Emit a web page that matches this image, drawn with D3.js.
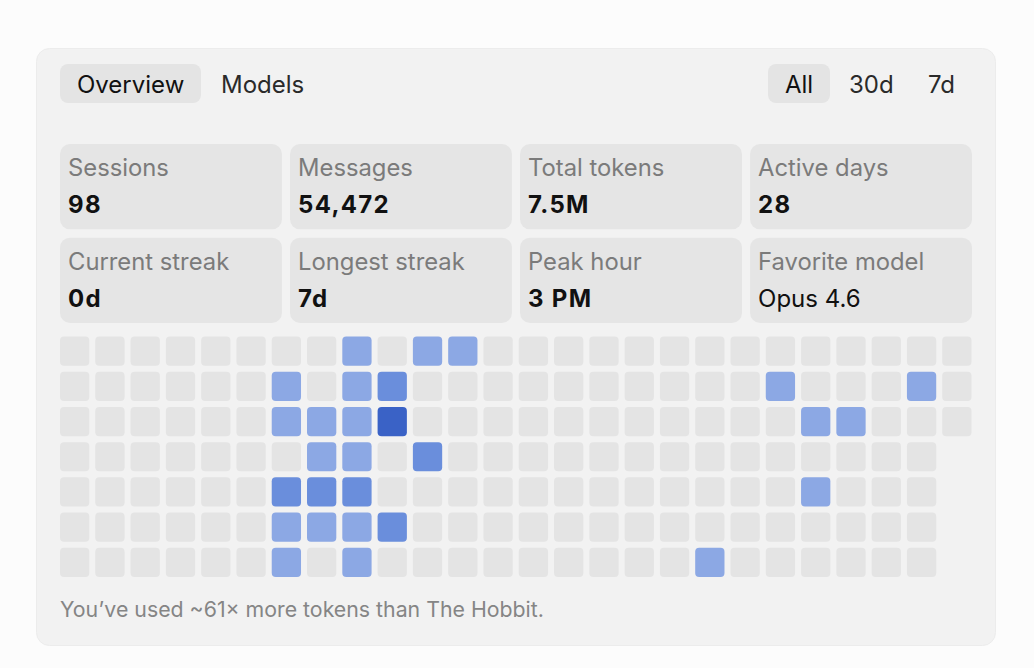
<!DOCTYPE html>
<html>
<head>
<meta charset="utf-8">
<script src="https://cdn.jsdelivr.net/npm/d3@7/dist/d3.min.js"></script>
<style>
  html, body { margin: 0; padding: 0; background: #fcfcfc; }
  svg { display: block; font-family: Inter, "Noto Sans", sans-serif; }
</style>
</head>
<body>
<svg id="chart" width="1034" height="668"></svg>
<script>
// ---- data ----
const leftTabs = ["Overview", "Models"];
const rangeTabs = ["All", "30d", "7d"];
const statLabels = ["Sessions", "Messages", "Total tokens", "Active days",
                    "Current streak", "Longest streak", "Peak hour", "Favorite model"];
const statValues = ["98", "54,472", "7.5M", "28", "0d", "7d", "3 PM", "Opus 4.6"];
const footerText = "You\u2019ve used ~61\u00d7 more tokens than The Hobbit.";
// activity level per week column (index 0..25), each with up to 7 day rows
const weeks = d3.range(26);
const days = d3.range(7);
const activity = [
  [0,0,0,0,0,0,0],[0,0,0,0,0,0,0],[0,0,0,0,0,0,0],[0,0,0,0,0,0,0],
  [0,0,0,0,0,0,0],[0,0,0,0,0,0,0],
  [0,1,1,0,2,1,1],
  [0,0,1,1,2,1,0],
  [1,1,1,1,2,1,1],
  [0,2,3,0,0,2,0],
  [1,0,0,2,0,0,0],
  [1,0,0,0,0,0,0],
  [0,0,0,0,0,0,0],[0,0,0,0,0,0,0],[0,0,0,0,0,0,0],[0,0,0,0,0,0,0],
  [0,0,0,0,0,0,0],[0,0,0,0,0,0,0],
  [0,0,0,0,0,0,1],
  [0,0,0,0,0,0,0],
  [0,1,0,0,0,0,0],
  [0,0,1,0,1,0,0],
  [0,0,1,0,0,0,0],
  [0,0,0,0,0,0,0],
  [0,1,0,0,0,0,0],
  [0,0,0]
];
const levels = [0, 1, 2, 3];
const levelColors = ["#e4e4e4", "#8ca8e4", "#6a8edc", "#3a62c6"];

// ---- drawing ----
const svg = d3.select("#chart");

// card
svg.append("rect").attr("x", 36.5).attr("y", 48.5).attr("width", 959).attr("height", 597)
  .attr("rx", 13).attr("fill", "#f2f2f2").attr("stroke", "#ececec");

// left tabs
svg.append("rect").attr("x", 60).attr("y", 64).attr("width", 141).attr("height", 39)
  .attr("rx", 8).attr("fill", "#e4e4e4");
const leftTabX = [77, 221];
svg.selectAll("text.ltab").data(leftTabs).join("text").attr("class", "ltab")
  .attr("x", (d, i) => leftTabX[i]).attr("y", 92.5)
  .attr("font-size", 24).attr("fill", (d, i) => i === 0 ? "#111" : "#2a2a2a")
  .text(d => d);

// range tabs
svg.append("rect").attr("x", 768).attr("y", 64).attr("width", 62).attr("height", 39)
  .attr("rx", 8).attr("fill", "#e4e4e4");
const rangeTabX = [785, 849, 928];
svg.selectAll("text.rtab").data(rangeTabs).join("text").attr("class", "rtab")
  .attr("x", (d, i) => rangeTabX[i]).attr("y", 92.5)
  .attr("font-size", 24).attr("fill", (d, i) => i === 0 ? "#111" : "#2a2a2a")
  .text(d => d);

// stat boxes
const boxX = d3.scaleBand().domain(d3.range(4)).range([60, 972]).paddingInner(8 / 228);
const boxY = d3.scaleBand().domain(d3.range(2)).range([144, 323]).paddingInner(8 / 89.5);
const stats = statLabels.map((l, i) => ({ label: l, value: statValues[i], col: i % 4, row: Math.floor(i / 4), i }));
const boxes = svg.selectAll("g.stat").data(stats).join("g").attr("class", "stat")
  .attr("transform", d => `translate(${boxX(d.col)},${boxY(d.row)})`);
boxes.append("rect").attr("width", boxX.bandwidth()).attr("height", boxY.bandwidth())
  .attr("rx", 10).attr("fill", "#e5e5e5");
boxes.append("text").attr("x", 8).attr("y", 32).attr("font-size", 23.8).attr("fill", "#7b7b7b")
  .text(d => d.label);
boxes.append("text").attr("x", 8).attr("y", 69).attr("font-size", 24)
  .attr("font-weight", d => d.i === 7 ? 400 : 700)
  .attr("letter-spacing", d => d.i === 7 ? 0 : 1.3)
  .attr("fill", "#111")
  .text(d => d.value);

// heatmap
const x = d3.scaleBand().domain(weeks).range([60, 971.5]).paddingInner(0.17);
const y = d3.scaleBand().domain(days).range([336.5, 577]).paddingInner(0.17);
const color = d3.scaleOrdinal().domain(levels).range(levelColors);
const cells = [];
activity.forEach((col, wi) => col.forEach((v, di) => cells.push({ w: wi, d: di, v })));
svg.append("g").selectAll("rect").data(cells).join("rect")
  .attr("x", d => x(d.w)).attr("y", d => y(d.d))
  .attr("width", x.bandwidth()).attr("height", y.bandwidth())
  .attr("rx", 4).attr("fill", d => color(d.v));

// footer
svg.append("text").attr("x", 60).attr("y", 617).attr("font-size", 21.3).attr("fill", "#858585")
  .text(footerText);
</script>
</body>
</html>
